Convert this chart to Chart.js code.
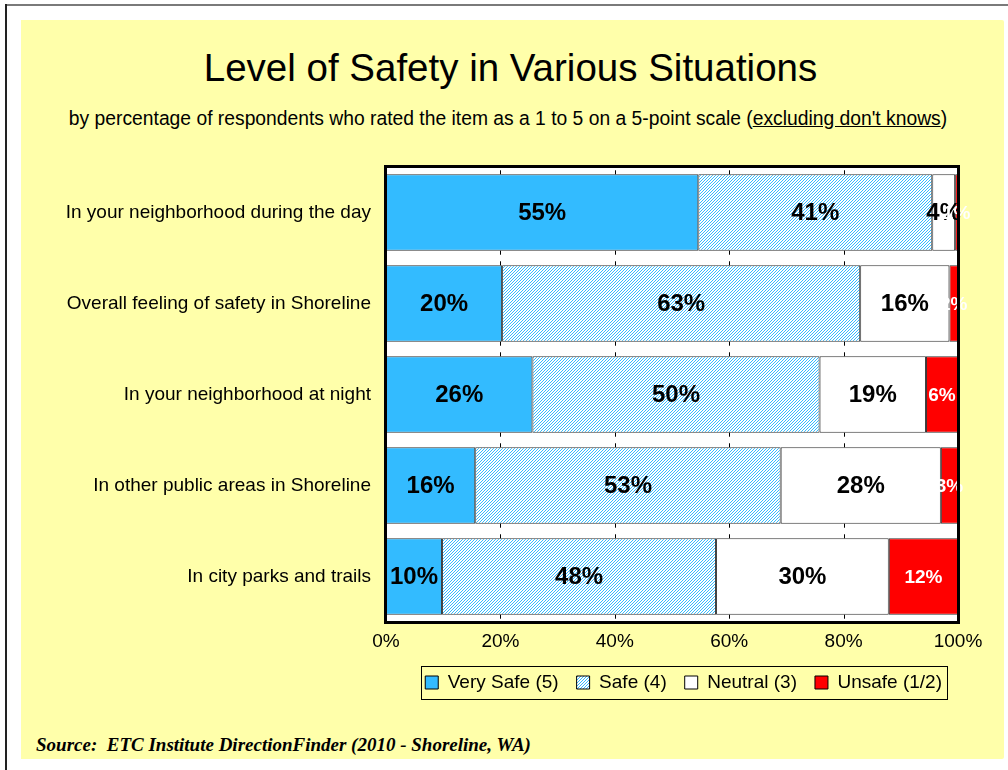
<!DOCTYPE html>
<html><head><meta charset="utf-8">
<script src="https://cdn.jsdelivr.net/npm/chart.js@4"></script>
<style>
html,body{margin:0;padding:0;background:#fff;width:1008px;height:770px;overflow:hidden;font-family:"Liberation Sans",Arial,sans-serif;color:#000;}
#frameTop{position:absolute;left:5px;top:4px;width:1003px;height:2px;background:#7a7a7a;}
#frameLeft{position:absolute;left:5px;top:4px;width:2px;height:766px;background:#222;}
#yellow{position:absolute;left:21px;top:20px;width:983px;height:739px;background:#FFFFAA;border-radius:0 2px 2px 0;}
#title{position:absolute;left:0;width:1021px;top:45px;text-align:center;font-size:38.5px;line-height:46px;}
#subtitle{position:absolute;left:0;width:1016px;top:108px;text-align:center;font-size:19.3px;line-height:22px;}
#source{position:absolute;left:36px;top:734px;font:italic bold 19px "Liberation Serif","Times New Roman",serif;line-height:22px;}
#wrap{position:absolute;left:0;top:0;width:1008px;height:770px;}
</style>
</head><body>
<div id="frameTop"></div><div id="frameLeft"></div>
<div id="yellow"></div>
<div id="title">Level of Safety in Various Situations</div>
<div id="subtitle">by percentage of respondents who rated the item as a 1 to 5 on a 5-point scale (<u>excluding don't knows</u>)</div>
<div id="source">Source:&nbsp; ETC Institute DirectionFinder (2010 - Shoreline, WA)</div>
<div id="wrap"><canvas id="c" width="1008" height="770"></canvas></div>
<script>
const categories = [
  'In your neighborhood during the day',
  'Overall feeling of safety in Shoreline',
  'In your neighborhood at night',
  'In other public areas in Shoreline',
  'In city parks and trails'
];
const seriesNames = ['Very Safe (5)', 'Safe (4)', 'Neutral (3)', 'Unsafe (1/2)'];
const verySafe = [54.6, 20.3, 25.6, 15.6, 9.8];
const safe     = [40.9, 62.6, 50.2, 53.4, 47.9];
const neutral  = [4.0, 15.6, 18.6, 28.0, 30.2];
const unsafe   = [0.5, 1.5, 5.6, 3.0, 12.1];
const xTickValues = [0, 20, 40, 60, 80, 100];

Chart.defaults.font.family = '"Liberation Sans", Arial, sans-serif';
Chart.defaults.color = '#000';

function hatchPattern() {
  const c = document.createElement('canvas');
  c.width = 3; c.height = 3;
  const x = c.getContext('2d');
  x.fillStyle = '#ffffff'; x.fillRect(0, 0, 3, 3);
  x.fillStyle = '#33BBFF';
  for (let i = 0; i < 3; i++) for (let j = 0; j < 3; j++) {
    if ((i + j) % 3 === 2) x.fillRect(i, j, 1, 1);
  }
  return x.createPattern(c, 'repeat');
}

const plotDecor = {
  id: 'plotDecor',
  beforeDatasetsDraw(chart) {
    const {ctx, chartArea: a} = chart;
    ctx.save();
    ctx.fillStyle = '#fff';
    ctx.fillRect(a.left, a.top, a.right - a.left, a.bottom - a.top);
    ctx.restore();
  },
  afterDatasetsDraw(chart) {
    const {ctx, chartArea: a} = chart;
    const xs = chart.scales.x;
    const meta0 = chart.getDatasetMeta(0);
    ctx.save();
    ctx.strokeStyle = '#000';
    ctx.lineWidth = 1;
    meta0.data.forEach(el => {
      const top = el.y - el.height / 2, bot = el.y + el.height / 2;
      xTickValues.slice(1, -1).forEach(v => {
        const px = Math.round(xs.getPixelForValue(v)) + 0.5;
        ctx.beginPath();
        ctx.moveTo(px, top - 4); ctx.lineTo(px, top);
        ctx.moveTo(px, bot); ctx.lineTo(px, bot + 4);
        ctx.stroke();
      });
    });
    chart.data.datasets.forEach((ds, i) => {
      const meta = chart.getDatasetMeta(i);
      meta.data.forEach((el, j) => {
        const v = ds.data[j];
        const cx = (el.x + el.base) / 2;
        ctx.font = i === 3 ? 'bold 19px "Liberation Sans", Arial' : 'bold 24px "Liberation Sans", Arial';
        ctx.fillStyle = i === 3 ? '#fff' : '#000';
        ctx.textAlign = 'center';
        ctx.textBaseline = 'middle';
        ctx.fillText(Math.round(v) + '%', cx, el.y + 1);
      });
    });
    ctx.lineWidth = 3;
    ctx.strokeStyle = '#000';
    ctx.strokeRect(a.left - 0.5, a.top - 0.5, a.right - a.left + 1, a.bottom - a.top + 1);
    ctx.restore();
  },
  afterLayout(chart) {
    const lg = chart.legend;
    if (lg) { lg.left += 2; lg.right += 2; }
  },
  afterDraw(chart) {
    const lg = chart.legend;
    if (!lg || !lg.legendHitBoxes || !lg.legendHitBoxes.length) return;
    const hb = lg.legendHitBoxes;
    let l = Infinity, r = -Infinity, t = Infinity, b = -Infinity;
    hb.forEach(h => {
      l = Math.min(l, h.left); r = Math.max(r, h.left + h.width);
      t = Math.min(t, h.top); b = Math.max(b, h.top + h.height);
    });
    const ctx = chart.ctx;
    ctx.save();
    ctx.strokeStyle = '#000';
    ctx.lineWidth = 1;
    ctx.strokeRect(Math.round(l - 4) + 0.5, Math.round(t - 7) + 0.5, Math.round(r - l + 9), Math.round(b - t + 14));
    ctx.restore();
  }
};

const colors = ['#33BBFF', hatchPattern(), '#FFFFFF', '#FF0000'];
const seriesData = [verySafe, safe, neutral, unsafe];

new Chart(document.getElementById('c'), {
  type: 'bar',
  data: {
    labels: categories,
    datasets: seriesNames.map((n, i) => ({
      label: n,
      data: seriesData[i],
      backgroundColor: colors[i],
      borderColor: '#333333',
      borderWidth: 1,
      borderSkipped: false,
      barPercentage: 0.84,
      categoryPercentage: 1.0
    }))
  },
  options: {
    indexAxis: 'y',
    responsive: false,
    animation: false,
    layout: { padding: { left: 21, top: 167, right: 50, bottom: 68 } },
    scales: {
      x: {
        stacked: true, min: 0, max: 100,
        grid: { display: false, drawTicks: false },
        border: { display: false },
        afterBuildTicks(scale) { scale.ticks = xTickValues.map(v => ({ value: v })); },
        afterFit(scale) { scale.height = 33; },
        ticks: { font: { size: 19 }, color: '#000', padding: 8, callback: v => v + '%', maxRotation: 0 }
      },
      y: {
        stacked: true,
        grid: { display: false, drawTicks: false },
        border: { display: false },
        afterFit(scale) { scale.width = 365; },
        ticks: { font: { size: 19 }, color: '#000', padding: 15 }
      }
    },
    plugins: {
      legend: {
        position: 'bottom',
        align: 'end',
        labels: {
          font: { size: 19 }, color: '#000', boxWidth: 13, boxHeight: 13, padding: 18,
          generateLabels(chart) {
            return chart.data.datasets.map((ds, i) => ({
              text: ds.label, fillStyle: ds.backgroundColor, strokeStyle: '#000',
              lineWidth: 1, datasetIndex: i, hidden: false, fontColor: '#000'
            }));
          }
        }
      },
      tooltip: { enabled: false },
      title: { display: false }
    }
  },
  plugins: [plotDecor]
});
</script>
</body></html>
